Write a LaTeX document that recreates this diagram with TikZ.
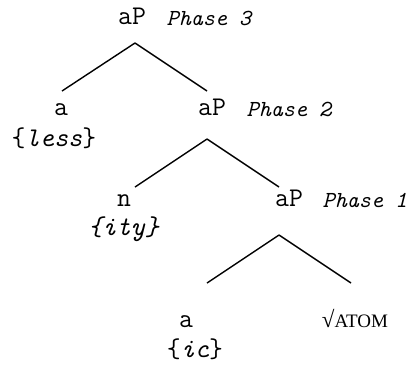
\documentclass[tikz,border=0pt]{standalone}
\usepackage{fontspec}
\newfontfamily\rootfont{Liberation Serif}
\tikzset{
  cat/.style={inner sep=0pt, anchor=base, font=\ttfamily\fontsize{27}{27}\selectfont},
  phase/.style={inner sep=0pt, anchor=base, font=\ttfamily\fontsize{23}{23}\selectfont\itshape},
}
\begin{document}
\begin{tikzpicture}[x=1pt, y=-1pt, line width=1.4pt]
    \useasboundingbox (0,0) rectangle (411,365);
    % categories and phases
    \node[cat] (ap-3) at (132,24) {aP};
    \node[phase] (ph-3) at (209,25) {Phase 3};
    \node[cat] (a-less) at (61,115) {a};
    \node[cat] (less) at (54,146) {\{\textit{less}\}};
    \node[cat] (ap-2) at (212,115) {aP};
    \node[phase] (ph-2) at (289,116) {Phase 2};
    \node[cat] (n-ity) at (124,206) {n};
    \node[cat] (ity) at (124,235) {\textit{\{ity\}}};
    \node[cat] (ap-1) at (289,206) {aP};
    \node[phase] (ph-1) at (365,207) {Phase 1};
    \node[cat] (a-ic) at (186,327) {a};
    \node[cat] (ic) at (195,357) {\{\textit{ic}\}};
    \node[cat, font=\rootfont\fontsize{23}{23}\selectfont] (root) at (355,327) {√{\fontsize{19}{19}\selectfont ATOM}};
    % branches
    \coordinate (top-3) at (135,43);
    \coordinate (left-3) at (62,91);
    \coordinate (right-3) at (207,91);
    \coordinate (top-2) at (207,139);
    \coordinate (left-2) at (135,187);
    \coordinate (right-2) at (279,187);
    \coordinate (top-1) at (279,235);
    \coordinate (left-1) at (207,283);
    \coordinate (right-1) at (351,283);
    \foreach \t/\l/\r in {top-3/left-3/right-3, top-2/left-2/right-2, top-1/left-1/right-1} {
        \draw (\t) -- (\l);
        \draw (\t) -- (\r);
    }
\end{tikzpicture}
\end{document}
